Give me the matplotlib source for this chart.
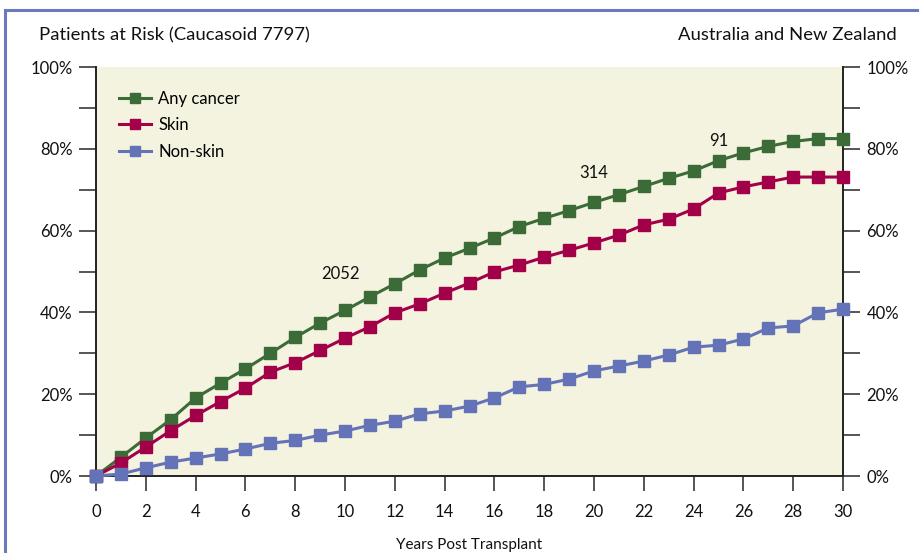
import matplotlib
matplotlib.use("Agg")
import matplotlib.pyplot as plt
from matplotlib.lines import Line2D

plt.rcParams['font.family'] = ['Lato', 'DejaVu Sans']

years = list(range(0, 31))
any_cancer = [0, 4.6, 9.3, 13.8, 19.1, 22.7, 26.2, 30.0, 33.9, 37.4, 40.5, 43.8, 47.0, 50.4, 53.3,
              55.7, 58.2, 61.0, 63.0, 64.9, 66.9, 68.8, 70.8, 72.8, 74.6, 77.1, 79.0, 80.6, 81.8, 82.5, 82.5]
skin = [0, 3.2, 7.1, 11.1, 14.8, 18.2, 21.5, 25.4, 27.7, 30.7, 33.7, 36.5, 39.9, 42.1, 44.7,
        47.2, 49.9, 51.6, 53.5, 55.2, 57.0, 58.9, 61.4, 62.8, 65.3, 69.2, 70.7, 71.9, 73.1, 73.1, 73.1]
non_skin = [0, 0.5, 2.0, 3.4, 4.4, 5.4, 6.6, 8.0, 8.7, 10.0, 11.0, 12.4, 13.4, 15.2, 15.9,
            17.1, 19.1, 21.8, 22.4, 23.7, 25.7, 26.9, 28.1, 29.6, 31.5, 32.0, 33.5, 36.2, 36.7, 39.9, 40.8]

at_risk_labels = ["2052", "314", "91"]
at_risk_pos = [(9.8, 49.5), (20.0, 74.0), (25.0, 82.0)]

green = "#3b6b36"
red = "#a3004a"
blue = "#6472b8"
tick_col = "#555555"

fig = plt.figure(figsize=(9.19, 5.53), dpi=100)
ax = fig.add_axes([0.1045, 0.1392, 0.8128, 0.7396])
ax.set_facecolor("#f4f3df")

for vals, col, name in [(any_cancer, green, "Any cancer"), (skin, red, "Skin"), (non_skin, blue, "Non-skin")]:
    ax.plot(years, vals, color=col, lw=2.2, marker="s", ms=8, clip_on=False, label=name, zorder=3)

for txt, (xx, yy) in zip(at_risk_labels, at_risk_pos):
    ax.text(xx, yy, txt, ha="center", va="center", fontsize=12, color="#111111")

ax.set_xlim(0, 30)
ax.set_ylim(0, 100)
ax.set_xticks(range(0, 31, 2))
ax.set_yticks(range(0, 101, 10))
ax.set_yticklabels([f"{v}%" if v % 20 == 0 else "" for v in range(0, 101, 10)])
ax.tick_params(axis="both", direction="out", color=tick_col, width=1.4, labelsize=12, labelcolor="#111111")
ax.tick_params(axis="y", length=12, pad=5, left=True, right=True, labelleft=True, labelright=True)
ax.tick_params(axis="x", length=11, pad=9)

ax.spines["top"].set_visible(False)
for s in ["left", "bottom", "right"]:
    ax.spines[s].set_linewidth(1.4)
    ax.spines[s].set_color("#222222")

ax.set_xlabel("Years Post Transplant", fontsize=11, labelpad=13, color="#111111")

leg = ax.legend(loc="upper left", bbox_to_anchor=(0.015, 0.97), frameon=False, fontsize=12,
                handlelength=1.9, handletextpad=0.45, labelspacing=0.62, borderaxespad=0.3, markerscale=0.85)

fig.text(39 / 919, 1 - 35 / 553, "Patients at Risk (Caucasoid 7797)", ha="left", va="center", fontsize=13.3, color="#111111")
fig.text(897 / 919, 1 - 35 / 553, "Australia and New Zealand", ha="right", va="center", fontsize=13.3, color="#111111")

# outer frame (top and left only)
border = "#6b79bd"
fig.add_artist(Line2D([5 / 919, 5 / 919], [0, 1 - 10 / 553], color=border, lw=2.2, transform=fig.transFigure))
fig.add_artist(Line2D([5 / 919, 1], [1 - 10 / 553, 1 - 10 / 553], color=border, lw=2.2, transform=fig.transFigure))

fig.savefig("out.png", dpi=100)
